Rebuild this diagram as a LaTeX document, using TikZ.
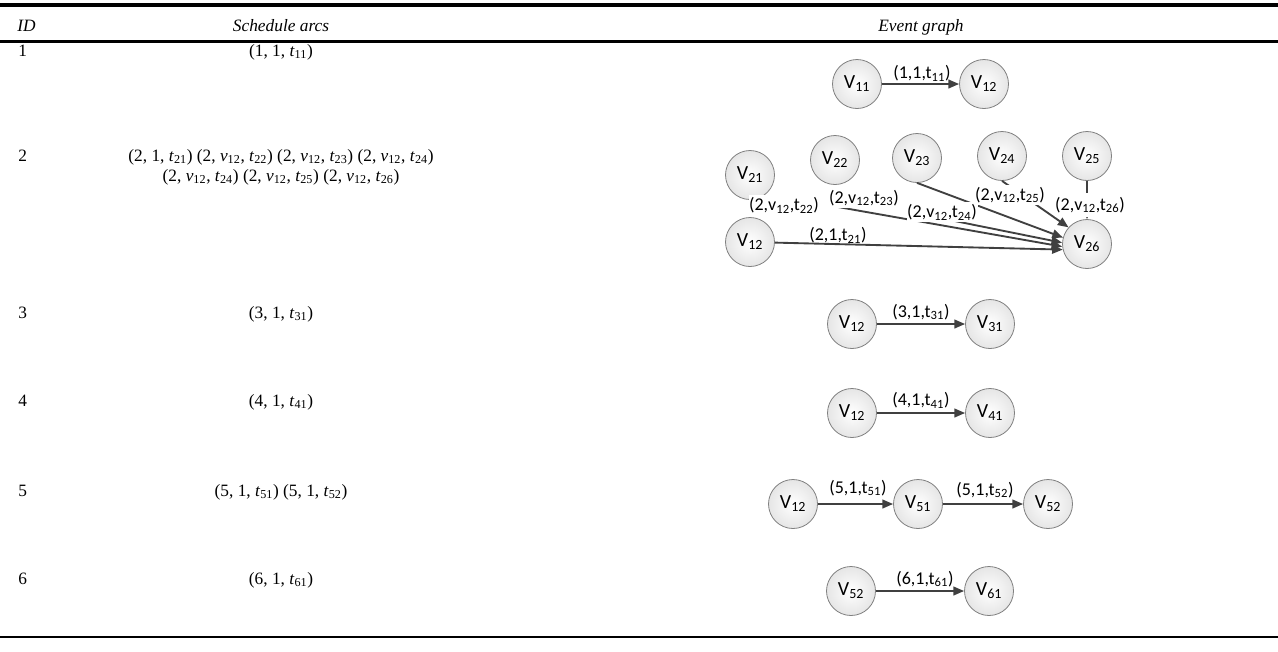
\documentclass[tikz,border=0pt]{standalone}
\usepackage{fontspec}
\setmainfont{Liberation Serif}
\newfontfamily\gfont{Carlito}
\usetikzlibrary{arrows.meta}
\definecolor{edgec}{HTML}{404040}
\definecolor{nodeb}{HTML}{808080}
\newcommand\tsub[1]{\textsubscript{#1}}
\begin{document}
\begin{tikzpicture}[x=0.75pt,y=-0.75pt,
  vnode/.style={circle,draw=nodeb,line width=0.6pt,inner sep=0pt,minimum size=36.75pt,
    shading=radial,inner color=white,outer color=gray!20,
    font=\gfont\fontsize{15}{18}\selectfont},
  elabel/.style={font=\gfont\fontsize{13.5}{16}\selectfont,inner sep=0.5pt},
  mask/.style={elabel,fill=white,inner ysep=1.5pt},
  arr/.style={draw=edgec,line width=1.4pt,-{Triangle[length=8pt,width=6.5pt]}},
  ttext/.style={font=\fontsize{13}{15.6}\selectfont,inner sep=0pt},
  rule/.style={draw=black}
]
\useasboundingbox (0,0) rectangle (1278,651);

% table rules
\coordinate (r1l) at (0,5);    \coordinate (r1r) at (1278,5);
\coordinate (r2l) at (0,41.5); \coordinate (r2r) at (1278,41.5);
\coordinate (r3l) at (0,637);  \coordinate (r3r) at (1278,637);
\draw[rule,line width=3pt] (r1l) -- (r1r);
\draw[rule,line width=1.6pt] (r2l) -- (r2r);
\draw[rule,line width=0.8pt] (r3l) -- (r3r);

% header
\node[ttext,anchor=base west] (hid) at (17,31) {\textit{ID}};
\node[ttext,anchor=base] (hsa) at (281,31) {\textit{Schedule arcs}};
\node[ttext,anchor=base] (heg) at (921,31) {\textit{Event graph}};

% ID column
\node[ttext,anchor=base west] (id1) at (18,56) {1};
\node[ttext,anchor=base west] (id2) at (18,161) {2};
\node[ttext,anchor=base west] (id3) at (18,318) {3};
\node[ttext,anchor=base west] (id4) at (18,406) {4};
\node[ttext,anchor=base west] (id5) at (18,496) {5};
\node[ttext,anchor=base west] (id6) at (18,584) {6};

% schedule arcs
\node[ttext,anchor=base] (sa1) at (281,56) {(1, 1, \textit{t}\tsub{11})};
\node[ttext,anchor=base] (sa2a) at (281,161) {(2, 1, \textit{t}\tsub{21}) (2, \textit{v}\tsub{12}, \textit{t}\tsub{22}) (2, \textit{v}\tsub{12}, \textit{t}\tsub{23}) (2, \textit{v}\tsub{12}, \textit{t}\tsub{24})};
\node[ttext,anchor=base] (sa2b) at (281,181) {(2, \textit{v}\tsub{12}, \textit{t}\tsub{24}) (2, \textit{v}\tsub{12}, \textit{t}\tsub{25}) (2, \textit{v}\tsub{12}, \textit{t}\tsub{26})};
\node[ttext,anchor=base] (sa3) at (281,318) {(3, 1, \textit{t}\tsub{31})};
\node[ttext,anchor=base] (sa4) at (281,406) {(4, 1, \textit{t}\tsub{41})};
\node[ttext,anchor=base] (sa5) at (281,496) {(5, 1, \textit{t}\tsub{51}) (5, 1, \textit{t}\tsub{52})};
\node[ttext,anchor=base] (sa6) at (281,584) {(6, 1, \textit{t}\tsub{61})};

% ---- row 1
\node[vnode] (v11) at (857,84) {V\tsub{11}};
\node[vnode] (v12a) at (984,84) {V\tsub{12}};
\draw[arr] (v11) -- (v12a);
\node[elabel] (l11) at (922,73) {(1,1,t\tsub{11})};

% ---- row 2
\node[vnode] (v21) at (750,175) {V\tsub{21}};
\node[vnode] (v22) at (835,160) {V\tsub{22}};
\node[vnode] (v23) at (917,158) {V\tsub{23}};
\node[vnode] (v24) at (1002,156) {V\tsub{24}};
\node[vnode] (v25) at (1087,156) {V\tsub{25}};
\node[vnode] (v12b) at (750,242) {V\tsub{12}};
\node[vnode] (v26) at (1087,244) {V\tsub{26}};
\coordinate (b0) at (838,207);
\coordinate (d0) at (925,215);
\draw[arr] (v12b) -- (v26.193);
\draw[arr] (b0) -- (v26.186);
\draw[arr] (d0) -- (v26.177);
\draw[arr] (v23.south) -- (v26.165);
\draw[arr] (v24.south) -- (v26.138);
\draw[arr] (v25.south) -- (v26.north);
\node[elabel] (l21) at (838,235) {(2,1,t\tsub{21})};
\node[mask] (l22) at (784,205) {(2,v\tsub{12},t\tsub{22})};
\node[mask] (l23) at (864,198) {(2,v\tsub{12},t\tsub{23})};
\node[mask] (l24) at (942,212) {(2,v\tsub{12},t\tsub{24})};
\node[mask] (l25) at (1010,195) {(2,v\tsub{12},t\tsub{25})};
\node[mask,minimum height=18pt] (l26) at (1090,205) {(2,v\tsub{12},t\tsub{26})};

% ---- row 3
\node[vnode] (v12c) at (852,324) {V\tsub{12}};
\node[vnode] (v31) at (990,324) {V\tsub{31}};
\draw[arr] (v12c) -- (v31);
\node[elabel] (l31) at (921,312) {(3,1,t\tsub{31})};

% ---- row 4
\node[vnode] (v12d) at (852,413) {V\tsub{12}};
\node[vnode] (v41) at (990,413) {V\tsub{41}};
\draw[arr] (v12d) -- (v41);
\node[elabel] (l41) at (921,400) {(4,1,t\tsub{41})};

% ---- row 5
\node[vnode] (v12e) at (793,504) {V\tsub{12}};
\node[vnode] (v51) at (918,504) {V\tsub{51}};
\node[vnode] (v52a) at (1048,504) {V\tsub{52}};
\draw[arr] (v12e) -- (v51);
\draw[arr] (v51) -- (v52a);
\node[elabel] (l51) at (858,488) {(5,1,t\tsub{51})};
\node[elabel] (l52) at (985,490) {(5,1,t\tsub{52})};

% ---- row 6
\node[vnode] (v52b) at (851,591) {V\tsub{52}};
\node[vnode] (v61) at (989,591) {V\tsub{61}};
\draw[arr] (v52b) -- (v61);
\node[elabel] (l61) at (925,579) {(6,1,t\tsub{61})};
\end{tikzpicture}
\end{document}
